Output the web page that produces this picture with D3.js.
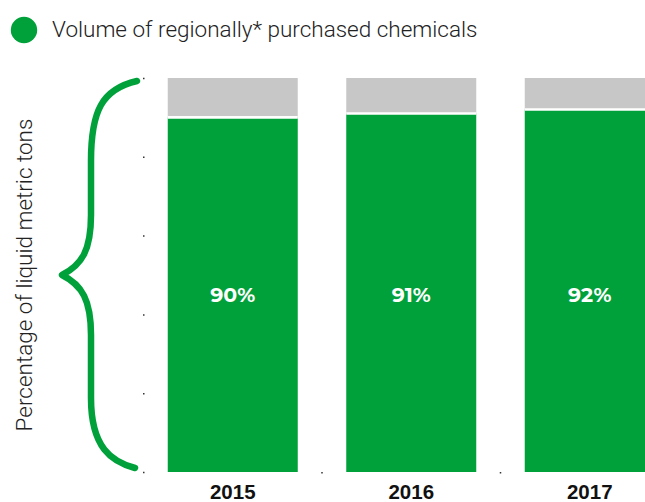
<!DOCTYPE html>
<html>
<head>
<meta charset="utf-8">
<script src="https://cdn.jsdelivr.net/npm/d3@7"></script>
<style>
  html, body { margin: 0; padding: 0; background: #fff; }
  svg { display: block; }
</style>
</head>
<body>
<svg id="chart" width="645" height="502"></svg>
<script>
// Share of chemicals purchased regionally, by year
const years = ["2015", "2016", "2017"];
const regionalShare = [90, 91, 92];
const yTicks = [0, 20, 40, 60, 80, 100];
const legendLabel = "Volume of regionally* purchased chemicals";
const axisTitle = "Percentage of liquid metric tons";

const GREEN = "#00A13A";
const GREY = "#C6C7C6";

const svg = d3.select("#chart");

const y = d3.scaleLinear().domain([0, 100]).range([472, 78]);
const x = d3.scaleBand()
  .domain(years)
  .range([143.5, 143.5 + 3 * 178.5])
  .paddingInner(0.2717)
  .paddingOuter(0.2717 / 2);

// Legend
svg.append("circle")
  .attr("cx", 24).attr("cy", 30).attr("r", 13.2)
  .attr("fill", GREEN);
svg.append("text")
  .attr("x", 52).attr("y", 37)
  .attr("font-family", "Roboto, sans-serif")
  .attr("font-weight", 300)
  .attr("font-size", 22.5)
  .attr("fill", "#222")
  .text(legendLabel);

// Axis title
svg.append("text")
  .attr("transform", `translate(32, ${y(50)}) rotate(-90)`)
  .attr("text-anchor", "middle")
  .attr("font-family", "Roboto, sans-serif")
  .attr("font-weight", 300)
  .attr("font-size", 22.5)
  .attr("fill", "#222")
  .text(axisTitle);

// Curly brace spanning the full 0–100 range
const yt = y(100) + 3, yb = y(0) - 4, ym = y(50);
const brace = d3.path();
brace.moveTo(137, yt);
brace.bezierCurveTo(102, yt + 8, 91, yt + 30, 91, yt + 80);
brace.lineTo(91, ym - 60);
brace.bezierCurveTo(91, ym - 25, 82, ym - 10, 62, ym);
brace.bezierCurveTo(82, ym + 10, 91, ym + 25, 91, ym + 60);
brace.lineTo(91, yb - 70);
brace.bezierCurveTo(91, yb - 20, 112, yb - 6, 135, yb);
svg.append("path")
  .attr("d", brace.toString())
  .attr("fill", "none")
  .attr("stroke", GREEN)
  .attr("stroke-width", 6.5)
  .attr("stroke-linecap", "round")
  .attr("stroke-linejoin", "round");

// Tiny y ticks
const yAxis = svg.append("g")
  .attr("transform", "translate(144.5,0)")
  .call(d3.axisLeft(y).tickValues(yTicks).tickSize(1.5).tickFormat(""));
yAxis.select(".domain").remove();
yAxis.selectAll(".tick line").attr("stroke", "#333").attr("stroke-width", 1.5);

// Tiny x ticks between the bars
const gap = x.step() - x.bandwidth();
svg.append("g").selectAll("line")
  .data(years.slice(1))
  .join("line")
  .attr("x1", d => x(d) - gap / 2).attr("x2", d => x(d) - gap / 2)
  .attr("y1", y(0)).attr("y2", y(0) + 1.5)
  .attr("stroke", "#333").attr("stroke-width", 1.5);

const data = years.map((yr, i) => ({ year: yr, value: regionalShare[i] }));

const bars = svg.append("g").selectAll("g")
  .data(data)
  .join("g");

// Remaining share (grey)
bars.append("rect")
  .attr("x", d => x(d.year))
  .attr("width", x.bandwidth())
  .attr("y", y(100))
  .attr("height", d => y(d.value) - y(100))
  .attr("fill", GREY);

// Regional share (green)
bars.append("rect")
  .attr("x", d => x(d.year))
  .attr("width", x.bandwidth())
  .attr("y", d => y(d.value))
  .attr("height", d => y(0) - y(d.value))
  .attr("fill", GREEN);

// White divider between the two segments
bars.append("line")
  .attr("x1", d => x(d.year)).attr("x2", d => x(d.year) + x.bandwidth())
  .attr("y1", d => y(d.value)).attr("y2", d => y(d.value))
  .attr("stroke", "#fff").attr("stroke-width", 2.6);

// Value labels
bars.append("text")
  .attr("x", d => x(d.year) + x.bandwidth() / 2)
  .attr("y", 302)
  .attr("text-anchor", "middle")
  .attr("font-family", "Montserrat, 'Open Sans', sans-serif")
  .attr("font-weight", 700)
  .attr("font-size", 20.5)
  .attr("fill", "#fff")
  .text(d => d.value + "%");

// Year labels
svg.append("g").selectAll("text")
  .data(years)
  .join("text")
  .attr("x", d => x(d) + x.bandwidth() / 2)
  .attr("y", 499)
  .attr("text-anchor", "middle")
  .attr("font-family", "'Liberation Sans', Arial, sans-serif")
  .attr("font-weight", 700)
  .attr("font-size", 20.5)
  .attr("fill", "#111")
  .text(d => d);
</script>
</body>
</html>
